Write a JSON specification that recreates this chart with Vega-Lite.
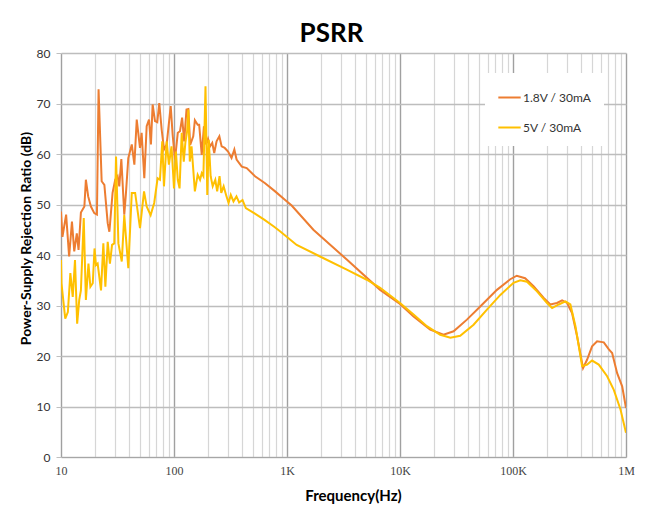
{
  "$schema": "https://vega.github.io/schema/vega-lite/v6.json",
  "width": 565,
  "height": 404,
  "autosize": {"type": "none"},
  "padding": {"left": 61, "top": 53, "right": 23, "bottom": 48},
  "background": "white",
  "title": {
    "text": "PSRR",
    "font": "Lato",
    "fontSize": 26,
    "fontWeight": "bold",
    "color": "#000000",
    "anchor": "middle",
    "dx": -12,
    "offset": 0
  },
  "config": {
    "view": {"stroke": null},
    "axis": {"labelFont": "Lato", "titleFont": "Lato", "labelColor": "#222222", "titleColor": "#000000"}
  },
  "datasets": {
    "psrr": [
      {"f": 10, "db": 48.6, "s": "1.8V / 30mA"},
      {"f": 10.3, "db": 43.6, "s": "1.8V / 30mA"},
      {"f": 11.1, "db": 48.0, "s": "1.8V / 30mA"},
      {"f": 11.8, "db": 39.7, "s": "1.8V / 30mA"},
      {"f": 12.5, "db": 46.6, "s": "1.8V / 30mA"},
      {"f": 13.1, "db": 40.7, "s": "1.8V / 30mA"},
      {"f": 13.8, "db": 44.3, "s": "1.8V / 30mA"},
      {"f": 14.3, "db": 41.0, "s": "1.8V / 30mA"},
      {"f": 15.0, "db": 48.4, "s": "1.8V / 30mA"},
      {"f": 16.1, "db": 49.6, "s": "1.8V / 30mA"},
      {"f": 16.6, "db": 54.9, "s": "1.8V / 30mA"},
      {"f": 17.4, "db": 51.6, "s": "1.8V / 30mA"},
      {"f": 18.4, "db": 49.6, "s": "1.8V / 30mA"},
      {"f": 19.7, "db": 48.3, "s": "1.8V / 30mA"},
      {"f": 20.8, "db": 48.0, "s": "1.8V / 30mA"},
      {"f": 21.5, "db": 72.8, "s": "1.8V / 30mA"},
      {"f": 22.9, "db": 54.6, "s": "1.8V / 30mA"},
      {"f": 24.2, "db": 53.9, "s": "1.8V / 30mA"},
      {"f": 25.9, "db": 46.3, "s": "1.8V / 30mA"},
      {"f": 26.8, "db": 44.6, "s": "1.8V / 30mA"},
      {"f": 28.6, "db": 52.3, "s": "1.8V / 30mA"},
      {"f": 30.2, "db": 54.9, "s": "1.8V / 30mA"},
      {"f": 31.7, "db": 55.6, "s": "1.8V / 30mA"},
      {"f": 32.8, "db": 53.6, "s": "1.8V / 30mA"},
      {"f": 34.2, "db": 59.0, "s": "1.8V / 30mA"},
      {"f": 36.3, "db": 48.0, "s": "1.8V / 30mA"},
      {"f": 37.5, "db": 52.0, "s": "1.8V / 30mA"},
      {"f": 39.4, "db": 59.2, "s": "1.8V / 30mA"},
      {"f": 42.3, "db": 61.9, "s": "1.8V / 30mA"},
      {"f": 44.6, "db": 57.9, "s": "1.8V / 30mA"},
      {"f": 46.8, "db": 66.8, "s": "1.8V / 30mA"},
      {"f": 50, "db": 61.2, "s": "1.8V / 30mA"},
      {"f": 51.7, "db": 64.2, "s": "1.8V / 30mA"},
      {"f": 54.6, "db": 55.2, "s": "1.8V / 30mA"},
      {"f": 57.3, "db": 65.5, "s": "1.8V / 30mA"},
      {"f": 60.1, "db": 66.8, "s": "1.8V / 30mA"},
      {"f": 62.5, "db": 61.9, "s": "1.8V / 30mA"},
      {"f": 64.7, "db": 69.8, "s": "1.8V / 30mA"},
      {"f": 67.9, "db": 66.5, "s": "1.8V / 30mA"},
      {"f": 71.1, "db": 66.3, "s": "1.8V / 30mA"},
      {"f": 74.1, "db": 70.1, "s": "1.8V / 30mA"},
      {"f": 77.8, "db": 64.8, "s": "1.8V / 30mA"},
      {"f": 81.6, "db": 60.9, "s": "1.8V / 30mA"},
      {"f": 86.1, "db": 61.9, "s": "1.8V / 30mA"},
      {"f": 93.5, "db": 69.5, "s": "1.8V / 30mA"},
      {"f": 97.3, "db": 63.8, "s": "1.8V / 30mA"},
      {"f": 102, "db": 58.9, "s": "1.8V / 30mA"},
      {"f": 108, "db": 64.2, "s": "1.8V / 30mA"},
      {"f": 113, "db": 64.5, "s": "1.8V / 30mA"},
      {"f": 118, "db": 67.2, "s": "1.8V / 30mA"},
      {"f": 123, "db": 62.5, "s": "1.8V / 30mA"},
      {"f": 129, "db": 68.8, "s": "1.8V / 30mA"},
      {"f": 134, "db": 68.9, "s": "1.8V / 30mA"},
      {"f": 139, "db": 61.8, "s": "1.8V / 30mA"},
      {"f": 148, "db": 63.5, "s": "1.8V / 30mA"},
      {"f": 153, "db": 66.7, "s": "1.8V / 30mA"},
      {"f": 162, "db": 65.8, "s": "1.8V / 30mA"},
      {"f": 167, "db": 65.8, "s": "1.8V / 30mA"},
      {"f": 176, "db": 59.8, "s": "1.8V / 30mA"},
      {"f": 184, "db": 65.5, "s": "1.8V / 30mA"},
      {"f": 192, "db": 61.9, "s": "1.8V / 30mA"},
      {"f": 200, "db": 63.0, "s": "1.8V / 30mA"},
      {"f": 208, "db": 61.5, "s": "1.8V / 30mA"},
      {"f": 218, "db": 62.2, "s": "1.8V / 30mA"},
      {"f": 227, "db": 60.2, "s": "1.8V / 30mA"},
      {"f": 238, "db": 62.5, "s": "1.8V / 30mA"},
      {"f": 252, "db": 63.5, "s": "1.8V / 30mA"},
      {"f": 264, "db": 61.5, "s": "1.8V / 30mA"},
      {"f": 281, "db": 61.2, "s": "1.8V / 30mA"},
      {"f": 301, "db": 60.5, "s": "1.8V / 30mA"},
      {"f": 323, "db": 59.2, "s": "1.8V / 30mA"},
      {"f": 342, "db": 60.9, "s": "1.8V / 30mA"},
      {"f": 358, "db": 58.9, "s": "1.8V / 30mA"},
      {"f": 398, "db": 57.5, "s": "1.8V / 30mA"},
      {"f": 440, "db": 57.2, "s": "1.8V / 30mA"},
      {"f": 521, "db": 55.6, "s": "1.8V / 30mA"},
      {"f": 640, "db": 54.2, "s": "1.8V / 30mA"},
      {"f": 785, "db": 52.6, "s": "1.8V / 30mA"},
      {"f": 963, "db": 50.9, "s": "1.8V / 30mA"},
      {"f": 1100, "db": 49.8, "s": "1.8V / 30mA"},
      {"f": 1711, "db": 45.0, "s": "1.8V / 30mA"},
      {"f": 3380, "db": 39.1, "s": "1.8V / 30mA"},
      {"f": 6670, "db": 33.1, "s": "1.8V / 30mA"},
      {"f": 10000, "db": 30.3, "s": "1.8V / 30mA"},
      {"f": 13180, "db": 27.8, "s": "1.8V / 30mA"},
      {"f": 18500, "db": 25.2, "s": "1.8V / 30mA"},
      {"f": 24300, "db": 24.2, "s": "1.8V / 30mA"},
      {"f": 29800, "db": 24.9, "s": "1.8V / 30mA"},
      {"f": 39100, "db": 27.2, "s": "1.8V / 30mA"},
      {"f": 51300, "db": 29.8, "s": "1.8V / 30mA"},
      {"f": 72100, "db": 33.1, "s": "1.8V / 30mA"},
      {"f": 94600, "db": 35.2, "s": "1.8V / 30mA"},
      {"f": 108000, "db": 35.9, "s": "1.8V / 30mA"},
      {"f": 128000, "db": 35.4, "s": "1.8V / 30mA"},
      {"f": 152000, "db": 33.8, "s": "1.8V / 30mA"},
      {"f": 187000, "db": 31.5, "s": "1.8V / 30mA"},
      {"f": 214000, "db": 30.2, "s": "1.8V / 30mA"},
      {"f": 245000, "db": 30.5, "s": "1.8V / 30mA"},
      {"f": 272000, "db": 31.0, "s": "1.8V / 30mA"},
      {"f": 301000, "db": 30.5, "s": "1.8V / 30mA"},
      {"f": 333000, "db": 28.5, "s": "1.8V / 30mA"},
      {"f": 369000, "db": 23.9, "s": "1.8V / 30mA"},
      {"f": 417000, "db": 17.6, "s": "1.8V / 30mA"},
      {"f": 453000, "db": 19.3, "s": "1.8V / 30mA"},
      {"f": 501000, "db": 21.9, "s": "1.8V / 30mA"},
      {"f": 555000, "db": 22.9, "s": "1.8V / 30mA"},
      {"f": 636000, "db": 22.7, "s": "1.8V / 30mA"},
      {"f": 705000, "db": 21.3, "s": "1.8V / 30mA"},
      {"f": 754000, "db": 20.6, "s": "1.8V / 30mA"},
      {"f": 835000, "db": 16.6, "s": "1.8V / 30mA"},
      {"f": 925000, "db": 14.0, "s": "1.8V / 30mA"},
      {"f": 1000000, "db": 9.7, "s": "1.8V / 30mA"},
      {"f": 10, "db": 39.0, "s": "5V / 30mA"},
      {"f": 10.1, "db": 34.4, "s": "5V / 30mA"},
      {"f": 10.9, "db": 27.4, "s": "5V / 30mA"},
      {"f": 11.5, "db": 28.7, "s": "5V / 30mA"},
      {"f": 12.1, "db": 36.4, "s": "5V / 30mA"},
      {"f": 12.7, "db": 31.7, "s": "5V / 30mA"},
      {"f": 13.3, "db": 39.0, "s": "5V / 30mA"},
      {"f": 13.9, "db": 26.4, "s": "5V / 30mA"},
      {"f": 14.5, "db": 31.1, "s": "5V / 30mA"},
      {"f": 15.0, "db": 33.0, "s": "5V / 30mA"},
      {"f": 15.9, "db": 47.3, "s": "5V / 30mA"},
      {"f": 16.6, "db": 31.1, "s": "5V / 30mA"},
      {"f": 17.5, "db": 38.3, "s": "5V / 30mA"},
      {"f": 18.2, "db": 33.7, "s": "5V / 30mA"},
      {"f": 19.1, "db": 34.4, "s": "5V / 30mA"},
      {"f": 19.8, "db": 41.3, "s": "5V / 30mA"},
      {"f": 20.4, "db": 38.0, "s": "5V / 30mA"},
      {"f": 21.1, "db": 38.3, "s": "5V / 30mA"},
      {"f": 22.6, "db": 33.0, "s": "5V / 30mA"},
      {"f": 23.7, "db": 42.3, "s": "5V / 30mA"},
      {"f": 24.7, "db": 33.7, "s": "5V / 30mA"},
      {"f": 25.9, "db": 42.6, "s": "5V / 30mA"},
      {"f": 27.1, "db": 38.3, "s": "5V / 30mA"},
      {"f": 28.3, "db": 42.0, "s": "5V / 30mA"},
      {"f": 29.6, "db": 42.3, "s": "5V / 30mA"},
      {"f": 30.7, "db": 59.5, "s": "5V / 30mA"},
      {"f": 32.2, "db": 42.3, "s": "5V / 30mA"},
      {"f": 34.5, "db": 38.7, "s": "5V / 30mA"},
      {"f": 36.3, "db": 47.9, "s": "5V / 30mA"},
      {"f": 39.4, "db": 37.4, "s": "5V / 30mA"},
      {"f": 42.3, "db": 52.3, "s": "5V / 30mA"},
      {"f": 45.3, "db": 52.3, "s": "5V / 30mA"},
      {"f": 50, "db": 45.3, "s": "5V / 30mA"},
      {"f": 54.3, "db": 52.6, "s": "5V / 30mA"},
      {"f": 57.3, "db": 49.6, "s": "5V / 30mA"},
      {"f": 62.1, "db": 47.9, "s": "5V / 30mA"},
      {"f": 66.8, "db": 50.3, "s": "5V / 30mA"},
      {"f": 71.6, "db": 55.2, "s": "5V / 30mA"},
      {"f": 75.1, "db": 54.9, "s": "5V / 30mA"},
      {"f": 78.7, "db": 62.5, "s": "5V / 30mA"},
      {"f": 81.5, "db": 53.6, "s": "5V / 30mA"},
      {"f": 86.1, "db": 62.5, "s": "5V / 30mA"},
      {"f": 90.1, "db": 57.9, "s": "5V / 30mA"},
      {"f": 95.1, "db": 61.5, "s": "5V / 30mA"},
      {"f": 100, "db": 53.2, "s": "5V / 30mA"},
      {"f": 104, "db": 60.5, "s": "5V / 30mA"},
      {"f": 108, "db": 54.9, "s": "5V / 30mA"},
      {"f": 112, "db": 53.2, "s": "5V / 30mA"},
      {"f": 117, "db": 64.2, "s": "5V / 30mA"},
      {"f": 122, "db": 58.5, "s": "5V / 30mA"},
      {"f": 126, "db": 62.2, "s": "5V / 30mA"},
      {"f": 130.6, "db": 64.5, "s": "5V / 30mA"},
      {"f": 134, "db": 68.8, "s": "5V / 30mA"},
      {"f": 138, "db": 58.5, "s": "5V / 30mA"},
      {"f": 143, "db": 61.5, "s": "5V / 30mA"},
      {"f": 153, "db": 52.6, "s": "5V / 30mA"},
      {"f": 162, "db": 55.9, "s": "5V / 30mA"},
      {"f": 170, "db": 54.9, "s": "5V / 30mA"},
      {"f": 176, "db": 56.2, "s": "5V / 30mA"},
      {"f": 182, "db": 55.6, "s": "5V / 30mA"},
      {"f": 190, "db": 73.4, "s": "5V / 30mA"},
      {"f": 197, "db": 51.9, "s": "5V / 30mA"},
      {"f": 203, "db": 62.8, "s": "5V / 30mA"},
      {"f": 211, "db": 55.6, "s": "5V / 30mA"},
      {"f": 220, "db": 53.6, "s": "5V / 30mA"},
      {"f": 232, "db": 54.9, "s": "5V / 30mA"},
      {"f": 241, "db": 52.6, "s": "5V / 30mA"},
      {"f": 253, "db": 55.6, "s": "5V / 30mA"},
      {"f": 262, "db": 52.3, "s": "5V / 30mA"},
      {"f": 275, "db": 53.6, "s": "5V / 30mA"},
      {"f": 289, "db": 51.9, "s": "5V / 30mA"},
      {"f": 304, "db": 50.3, "s": "5V / 30mA"},
      {"f": 318, "db": 51.9, "s": "5V / 30mA"},
      {"f": 336, "db": 50.6, "s": "5V / 30mA"},
      {"f": 357, "db": 51.6, "s": "5V / 30mA"},
      {"f": 377, "db": 50.4, "s": "5V / 30mA"},
      {"f": 404, "db": 50.9, "s": "5V / 30mA"},
      {"f": 432, "db": 49.3, "s": "5V / 30mA"},
      {"f": 512, "db": 48.3, "s": "5V / 30mA"},
      {"f": 628, "db": 47.0, "s": "5V / 30mA"},
      {"f": 770, "db": 45.6, "s": "5V / 30mA"},
      {"f": 867, "db": 44.7, "s": "5V / 30mA"},
      {"f": 1218, "db": 42.0, "s": "5V / 30mA"},
      {"f": 1960, "db": 39.7, "s": "5V / 30mA"},
      {"f": 3380, "db": 37.1, "s": "5V / 30mA"},
      {"f": 5080, "db": 35.1, "s": "5V / 30mA"},
      {"f": 6670, "db": 33.5, "s": "5V / 30mA"},
      {"f": 10000, "db": 30.5, "s": "5V / 30mA"},
      {"f": 13180, "db": 28.2, "s": "5V / 30mA"},
      {"f": 17300, "db": 25.9, "s": "5V / 30mA"},
      {"f": 22700, "db": 24.2, "s": "5V / 30mA"},
      {"f": 27900, "db": 23.6, "s": "5V / 30mA"},
      {"f": 34100, "db": 24.0, "s": "5V / 30mA"},
      {"f": 44800, "db": 26.2, "s": "5V / 30mA"},
      {"f": 58800, "db": 29.2, "s": "5V / 30mA"},
      {"f": 77300, "db": 32.1, "s": "5V / 30mA"},
      {"f": 101000, "db": 34.5, "s": "5V / 30mA"},
      {"f": 116000, "db": 35.0, "s": "5V / 30mA"},
      {"f": 133000, "db": 34.7, "s": "5V / 30mA"},
      {"f": 163000, "db": 32.8, "s": "5V / 30mA"},
      {"f": 200000, "db": 30.5, "s": "5V / 30mA"},
      {"f": 222000, "db": 29.5, "s": "5V / 30mA"},
      {"f": 254000, "db": 30.2, "s": "5V / 30mA"},
      {"f": 291000, "db": 30.8, "s": "5V / 30mA"},
      {"f": 322000, "db": 30.2, "s": "5V / 30mA"},
      {"f": 357000, "db": 25.9, "s": "5V / 30mA"},
      {"f": 409000, "db": 18.0, "s": "5V / 30mA"},
      {"f": 453000, "db": 18.3, "s": "5V / 30mA"},
      {"f": 501000, "db": 19.1, "s": "5V / 30mA"},
      {"f": 574000, "db": 18.3, "s": "5V / 30mA"},
      {"f": 681000, "db": 16.0, "s": "5V / 30mA"},
      {"f": 780000, "db": 13.3, "s": "5V / 30mA"},
      {"f": 894000, "db": 9.4, "s": "5V / 30mA"},
      {"f": 1000000, "db": 4.8, "s": "5V / 30mA"}
    ]
  },
  "data": {"name": "psrr"},
  "mark": {"type": "line", "strokeWidth": 2, "clip": true},
  "encoding": {
    "x": {
      "field": "f",
      "type": "quantitative",
      "scale": {"type": "log", "domain": [10, 1000000], "nice": false},
      "axis": {
        "title": "Frequency(Hz)",
        "titleFont": "Lato",
        "titleFontSize": 15,
        "titleFontWeight": "bold",
        "titleX": 292,
        "titleY": 43,
        "titleAlign": "center",
        "titleBaseline": "alphabetic",
        "values": [10,20,30,40,50,60,70,80,90,100,200,300,400,500,600,700,800,900,1000,2000,3000,4000,5000,6000,7000,8000,9000,10000,20000,30000,40000,50000,60000,70000,80000,90000,100000,200000,300000,400000,500000,600000,700000,800000,900000,1000000],
        "labelExpr": "datum.value==10?'10':datum.value==100?'100':datum.value==1000?'1K':datum.value==10000?'10K':datum.value==100000?'100K':datum.value==1000000?'1M':''",
        "labelFont": "Liberation Serif",
        "labelFontSize": 12,
        "labelColor": "#444444",
        "labelPadding": 8,
        "labelOverlap": false,
        "labelBound": false,
        "labelFlush": false,
        "ticks": false,
        "domain": true,
        "domainColor": "#a6a6a6",
        "domainWidth": 1.2,
        "grid": true,
        "gridColor": {"condition": {"test": "indexof([10,100,1000,10000,100000,1000000], datum.value) >= 0", "value": "#a0a0a0"}, "value": "#d6d6d6"},
        "gridWidth": {"condition": {"test": "indexof([10,100,1000,10000,100000,1000000], datum.value) >= 0", "value": 1.4}, "value": 1.2}
      }
    },
    "y": {
      "field": "db",
      "type": "quantitative",
      "scale": {"domain": [0, 80], "nice": false},
      "axis": {
        "title": "Power-Supply Rejection Ratio (dB)",
        "titleFont": "Lato",
        "titleFontSize": 14,
        "titleFontWeight": "bold",
        "titleX": -31,
        "titleY": 185,
        "titleAlign": "center",
        "titleBaseline": "alphabetic",
        "titleAngle": 270,
        "values": [0,10,20,30,40,50,60,70,80],
        "labelFont": "Lato",
        "labelFontSize": 12,
        "labelColor": "#333333",
        "labelPadding": 6,
        "ticks": true,
        "tickSize": 5,
        "tickColor": "#bfbfbf",
        "domain": false,
        "grid": true,
        "gridColor": "#bdbdbd",
        "gridWidth": 1.4
      }
    },
    "color": {
      "field": "s",
      "type": "nominal",
      "scale": {"domain": ["1.8V / 30mA", "5V / 30mA"], "range": ["#ED7D31", "#FFC000"]},
      "legend": {
        "title": null,
        "orient": "none",
        "legendX": 424,
        "legendY": 20,
        "fillColor": "white",
        "padding": 12,
        "symbolType": "stroke",
        "symbolSize": 500,
        "symbolStrokeWidth": 2,
        "labelFont": "Lato",
        "labelFontSize": 12,
        "labelColor": "#333333",
        "labelOffset": 1,
        "rowPadding": 11
      }
    }
  }
}
